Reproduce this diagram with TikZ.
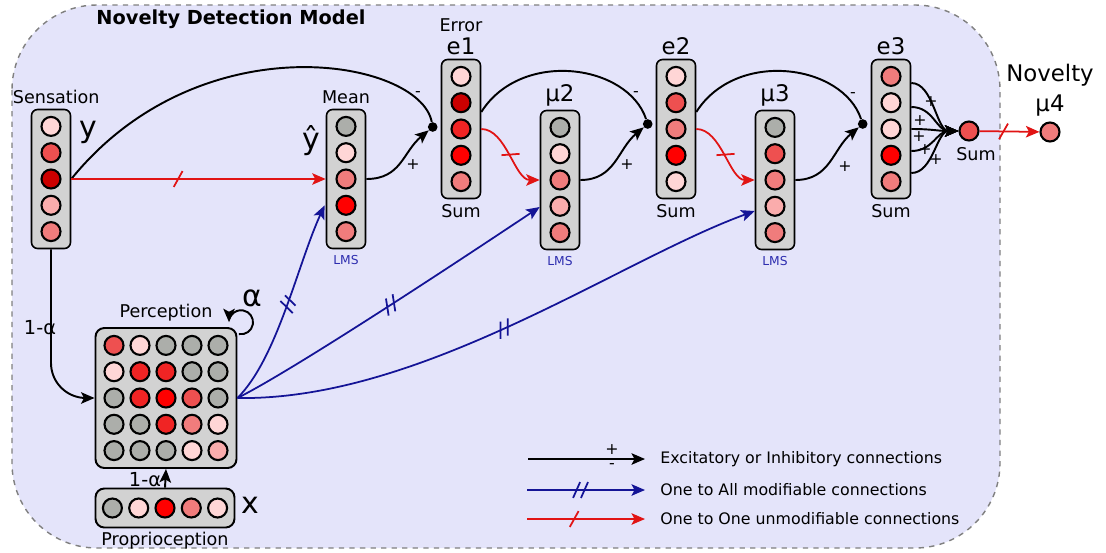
\documentclass[tikz,border=0pt]{standalone}
\usepackage{fontspec}
\setmainfont{DejaVu Sans}
\usepackage{tikz}
\usetikzlibrary{arrows.meta,positioning,calc,decorations.markings}

\definecolor{panelfill}{RGB}{228,228,250}
\definecolor{boxgray}{RGB}{210,210,210}
\definecolor{uGy}{RGB}{172,174,170}
\definecolor{uLp}{RGB}{255,214,214}
\definecolor{uPk}{RGB}{250,172,172}
\definecolor{uSa}{RGB}{240,124,124}
\definecolor{uMr}{RGB}{238,80,80}
\definecolor{uRd}{RGB}{240,36,36}
\definecolor{uBr}{RGB}{255,0,0}
\definecolor{uDr}{RGB}{204,0,0}
\definecolor{linkblue}{RGB}{20,20,150}
\definecolor{linkred}{RGB}{225,20,20}
\definecolor{lmsblue}{RGB}{45,45,175}

% one column of five units
\newcommand{\unitcol}[4]{%
  \node[layer] (#1) at (#2,#3) {};
  \foreach \c [count=\i] in {#4}
    \node[unit, fill=\c] (#1-\i) at ($(#1)+(0,{26.3*(\i-3)})$) {};
}

\begin{document}
\begin{tikzpicture}[
  x=0.02cm, y=-0.02cm,
  layer/.style={draw, line width=0.9pt, rounded corners=3.5pt, fill=boxgray, minimum width=0.78cm, minimum height=2.78cm, inner sep=0pt},
  grid/.style={draw, line width=1.1pt, rounded corners=5pt, fill=boxgray, minimum width=2.82cm, minimum height=2.8cm, inner sep=0pt},
  unit/.style={circle, draw, line width=1.2pt, minimum size=0.38cm, inner sep=0pt},
  dot/.style={circle, fill=black, inner sep=0pt, minimum size=5.5pt},
  lab/.style={font=\fontsize{10}{12}\selectfont, inner sep=0pt},
  alab/.style={font=\fontsize{11}{13}\selectfont, inner sep=0pt},
  leg/.style={font=\fontsize{9}{11}\selectfont, inner sep=0pt, anchor=west},
  sign/.style={font=\fontsize{9}{10}\selectfont, inner sep=0pt},
  big/.style={font=\fontsize{13}{15}\selectfont, inner sep=0pt},
  huge/.style={font=\fontsize{17}{19}\selectfont, inner sep=0pt},
  lms/.style={font=\fontsize{7}{8}\selectfont, text=lmsblue, inner sep=0pt},
  tip/.style={-{Stealth[length=2.7mm,width=2.3mm,inset=0.6mm]}},
  plain/.style={line width=1.1pt, black},
  excite/.style={plain, tip},
  onetoone/.style={linkred, line width=1pt, tip,
    postaction={decorate}, decoration={markings, mark=at position #1 with
      {\draw[linkred, line width=1pt, arrows=-] (-2.5pt,-4.5pt) -- (2.5pt,4.5pt);}}},
  onetoone/.default=0.5,
  onetoall/.style={linkblue, line width=1pt, tip,
    postaction={decorate}, decoration={markings, mark=at position #1 with
      {\draw[linkblue, line width=1pt, arrows=-] (-4pt,-4.5pt) -- (0pt,4.5pt) (0.5pt,-4.5pt) -- (4.5pt,4.5pt);}}},
  onetoall/.default=0.5
]
\useasboundingbox (0,0) rectangle (1106,552);
\draw[gray, dashed, line width=0.8pt, fill=panelfill, rounded corners=1.7cm] (12,5) rectangle (1000,548);

\node[font=\bfseries\fontsize{11}{13}\selectfont] (title) at (231,19) {Novelty Detection Model};

% columns
\unitcol{sens}{51}{179}{uLp,uMr,uDr,uPk,uSa}
\unitcol{mean}{346}{179}{uGy,uLp,uSa,uBr,uSa}
\unitcol{errA}{461}{129}{uLp,uDr,uRd,uBr,uSa}
\unitcol{lmsB}{560}{180}{uGy,uLp,uSa,uPk,uSa}
\unitcol{errB}{676}{129}{uLp,uMr,uSa,uBr,uLp}
\unitcol{lmsC}{775}{180}{uGy,uMr,uSa,uPk,uSa}
\unitcol{errC}{891}{129}{uSa,uLp,uLp,uBr,uSa}

\node[lab, above=2.5pt of sens, xshift=3pt] {Sensation};
\node[huge] at (88,132) {y};
\node[lab, above=2.5pt of mean] {Mean};
\node[huge] at (311,141) {ŷ};
\node[lms, below=3pt of mean] {LMS};
\node[big, above=2pt of errA] (eAlab) {e1};
\node[lab, above=3pt of eAlab] {Error};
\node[lab, below=2.5pt of errA] {Sum};
\node[big, above=2pt of lmsB] {μ2};
\node[lms, below=3pt of lmsB] {LMS};
\node[big, above=2pt of errB] {e2};
\node[lab, below=2.5pt of errB] {Sum};
\node[big, above=2pt of lmsC] {μ3};
\node[lms, below=3pt of lmsC] {LMS};
\node[big, above=2pt of errC] {e3};
\node[lab, below=2.5pt of errC] {Sum};

% output units
\node[unit, fill=uMr] (sum) at (969,131) {};
\node[lab, below=3pt of sum, xshift=4pt] {Sum};
\node[unit, fill=uSa] (nov) at (1050,132) {};
\node[big, above=3pt of nov] (novlab) {μ4};
\node[big, above=4pt of novlab] {Novelty};

% perception and proprioception
\node[grid] (perc) at (166,398) {};
\foreach \row [count=\r] in {{uMr,uLp,uGy,uGy,uGy},{uLp,uRd,uRd,uGy,uGy},{uGy,uRd,uBr,uMr,uGy},{uGy,uGy,uRd,uSa,uLp},{uGy,uGy,uGy,uLp,uPk}}
  \foreach \c [count=\k] in \row
    \node[unit, fill=\c] (perc-\r-\k) at ($(perc)+({26*(\k-3)},{26.3*(\r-3)})$) {};
\node[lab, above=3pt of perc] {Perception};
\node[grid, minimum height=0.78cm, minimum width=2.78cm] (prop) at (165,508) {};
\foreach \c [count=\k] in {uGy,uLp,uBr,uSa,uLp}
  \node[unit, fill=\c] (prop-\k) at ($(prop)+({26.3*(\k-3)},0)$) {};
\node[lab, below=2pt of prop] {Proprioception};
\node[huge] at (250,505) {x};

% junctions
\node[dot] (jA) at ($(errA.west)+(-8,-2)$) {};
\node[dot] (jB) at ($(errB.west)+(-8,-5)$) {};
\node[dot] (jC) at ($(errC.west)+(-8,-5)$) {};

% excitatory / inhibitory
\draw[plain] (sens.east) .. controls +(129,-159) and +(-13,-68) .. (jA);
\draw[excite] (mean.east) .. controls +(35,0) and +(-30,25) .. (jA);
\draw[plain] ($(errA.east)+(0,-17)$) .. controls +(40,-63) and +(-20,-60) .. (jB);
\draw[excite] (lmsB.east) .. controls +(35,0) and +(-30,25) .. (jB);
\draw[plain] ($(errB.east)+(0,-17)$) .. controls +(40,-63) and +(-20,-60) .. (jC);
\draw[excite] (lmsC.east) .. controls +(35,0) and +(-30,25) .. (jC);
\node[sign] at (418,94) {-};
\node[sign] at (413,165) {+};
\node[sign] at (636,94) {-};
\node[sign] at (627,165) {+};
\node[sign] at (853,95) {-};
\node[sign] at (845,167) {+};

% fan into the sum unit
\foreach \dy in {-46,-22,0,22,44}
  \draw[excite] ($(errC.east)+(0,\dy)$) .. controls +(22,0) and +(-22,0) .. (sum.west);
\node[sign] at (931,102) {+};
\node[sign] at (920,121) {+};
\node[sign] at (919,137) {+};
\node[sign] at (925,150) {+};
\node[sign] at (936,160) {+};

% one to one
\draw[onetoone=0.42] (sens.east) -- (mean.west);
\draw[onetoone] (errA.east) .. controls +(25,0) and +(-25,0) .. (lmsB.west);
\draw[onetoone] (errB.east) .. controls +(25,0) and +(-25,0) .. (lmsC.west);
\draw[onetoone=0.4] (sum) -- (nov);

% one to all
\draw[onetoall, shorten >=1.5pt] (perc.east) .. controls +(40,-40) and +(-28,61) .. ($(mean.west)+(0,24)$);
\draw[onetoall] (perc.east) .. controls +(60,-30) and +(-60,40) .. ($(lmsB.west)+(0,27)$);
\draw[onetoall] (perc.east) .. controls +(184,3) and +(-135,49) .. ($(lmsC.west)+(0,31)$);

% perception inputs
\draw[excite, rounded corners=0.7cm] (sens.south) |- (perc.west);
\node[alab] at (40,328) {1-α};
\draw[excite] (prop.north) -- (perc.south);
\node[alab] at (145,480) {1-α};
\draw[excite] ($(perc.north east)+(1.5,7)$) arc[start angle=-100, end angle=180, radius=0.24cm];
\node[huge] at (252,298) {α};

% legend
\coordinate (lgA1) at (528,459); \coordinate (lgA2) at (645,459);
\coordinate (lgB1) at (527,490); \coordinate (lgB2) at (645,490);
\coordinate (lgC1) at (527,519); \coordinate (lgC2) at (645,519);
\draw[excite] (lgA1) -- (lgA2);
\node[sign] at (612,450) {+};
\node[sign] at (612,466) {-};
\draw[onetoall=0.45] (lgB1) -- (lgB2);
\draw[onetoone=0.4] (lgC1) -- (lgC2);
\node[leg] at (660,459) {Excitatory or Inhibitory connections};
\node[leg] at (660,490) {One to All modifiable connections};
\node[leg] at (660,519) {One to One unmodifiable connections};
\end{tikzpicture}
\end{document}
